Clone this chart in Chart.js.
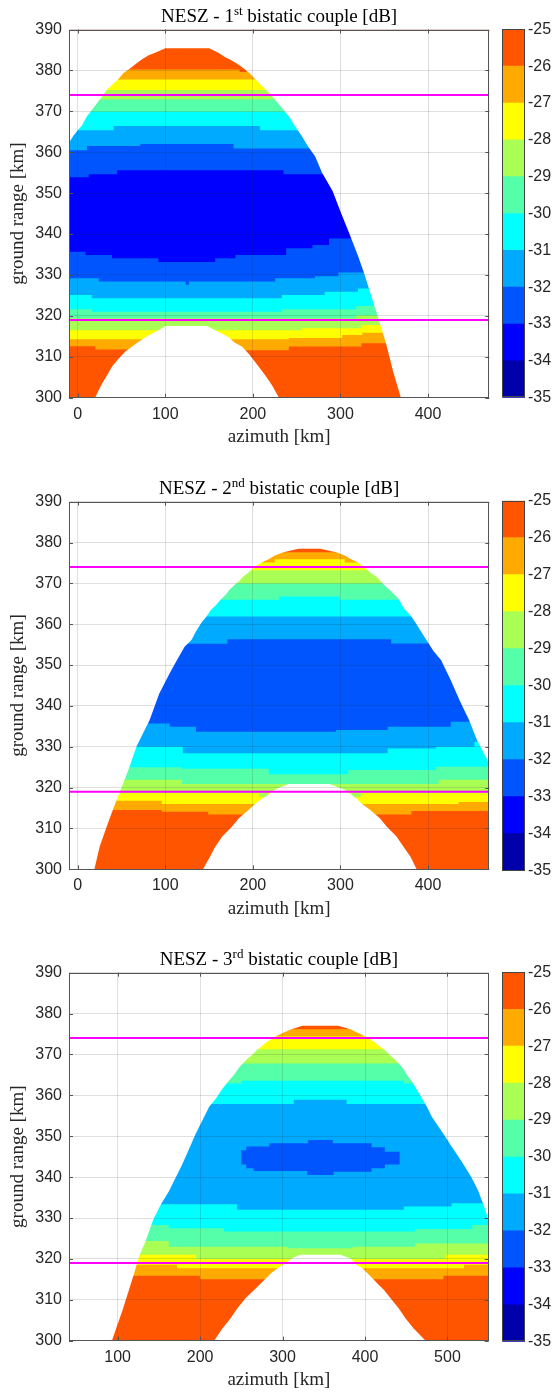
<!DOCTYPE html>
<html>
<head>
<meta charset="utf-8">
<script src="https://cdn.jsdelivr.net/npm/chart.js@4.4.1/dist/chart.umd.min.js"></script>
<style>
  html, body { margin: 0; padding: 0; background: #fff; }
  body { width: 555px; height: 1392px; position: relative; overflow: hidden; }
  canvas { position: absolute; }
</style>
</head>
<body>
<canvas id="plot1" width="495" height="460" style="left:0px;top:0px"></canvas>
<canvas id="cbar1" width="60" height="460" style="left:495px;top:0px"></canvas>
<canvas id="plot2" width="495" height="465" style="left:0px;top:460px"></canvas>
<canvas id="cbar2" width="60" height="465" style="left:495px;top:460px"></canvas>
<canvas id="plot3" width="495" height="467" style="left:0px;top:925px"></canvas>
<canvas id="cbar3" width="60" height="467" style="left:495px;top:925px"></canvas>
<script>
// NESZ levels [dB]: region "NESZ < level" is painted over the previous one
var levels = [-26, -27, -28, -29, -30, -31, -32, -33];
var levelColors = ["#FFAA00", "#FFFF00", "#AAFF55", "#55FFAA", "#00FFFF", "#00AAFF", "#0055FF", "#0000FF"];
var topColor = "#FF5500";

// colorbar
var cbarTicks = [-35, -34, -33, -32, -31, -30, -29, -28, -27, -26, -25];
var cbarColors = ["#0000AA", "#0000FF", "#0055FF", "#00AAFF", "#00FFFF", "#55FFAA", "#AAFF55", "#FFFF00", "#FFAA00", "#FF5500"];

var groundRange = [300, 390];
var rangeTicks = [300, 310, 320, 330, 340, 350, 360, 370, 380, 390];
var swathEdges = [374, 319];

var titles = [
    ["NESZ - 1", "st", " bistatic couple [dB]"],
    ["NESZ - 2", "nd", " bistatic couple [dB]"],
    ["NESZ - 3", "rd", " bistatic couple [dB]"]
];

// ---------- 1st couple ----------
var p1Azimuth = [-10, 470];
var p1Ticks = [0, 100, 200, 300, 400];
var p1Dome = [[-10,362.3],[-5,364],[0,365.4],[5,366.6],[10,368.6],[16,370.3],[23,372.3],[28,373.6],[33,375.2],[40,376.6],[45,377.6],[49,378.5],[52,379.3],[58,380.2],[63,381],[68,381.9],[74,382.8],[81,383.7],[89,384.4],[100,385.4],[150,385.4],[160,384.4],[168,383.3],[176,382.4],[185,381.2],[191,380.2],[197,379.2],[203,377.8],[210,376.3],[218,374.6],[225,372.9],[233,370.9],[241,368.8],[248,366.4],[256,363.9],[263,361.4],[271,359],[279,355],[291,350.5],[300,345.5],[310,340.2],[320,334.7],[327,330.4],[335,325],[342,320.3],[352,313.3],[360,306.5],[369,300],[372,296],[470,296]];
var p1Hole = [[-10,296],[18,296],[20.2,300.2],[24,301.9],[27.8,303.5],[33.5,305.5],[39.2,307.6],[46.8,309.6],[54.4,311.3],[62,312.5],[69.6,313.7],[77.2,314.8],[84.8,315.7],[92.4,316.5],[100,317.5],[147.5,317.5],[157,316.5],[164.6,315.7],[172.2,314.8],[179.8,313.4],[187.5,312.5],[195,310.8],[200.8,309.2],[206.5,307.6],[214,305.5],[221.7,303.1],[229.3,300.2],[232,296],[470,296]];
var p1Upper = [
    [[-10,380.2],[185,379.6],[193,380.2],[470,380.2]],
    [[-10,377.8],[470,377.8]],
    [[-10,375.2],[470,375.2]],
    [[-10,372.9],[470,372.9]],
    [[-10,369.9],[470,369.9]],
    [[-10,365.4],[41,366.4],[208,365.4],[470,365.4]],
    [[-10,360.5],[10.6,361.5],[71.5,362],[178,360.9],[470,360.9]],
    [[-10,353.9],[12.5,354.6],[45,355.6],[235,354.6],[470,354.6]]
];
var p1Lower = [
    [[-10,312.6],[20,311.8],[190,311.6],[241,312.5],[324,313.3],[470,313.3]],
    [[-10,314.3],[241,314.6],[302,315.3],[325,315.9],[470,315.9]],
    [[-10,316.5],[256,317],[324,317.8],[470,317.8]],
    [[-10,319.4],[318,320.1],[470,320.1]],
    [[-10,321.6],[16,321],[233,321.6],[318,322.4],[470,322.4]],
    [[-10,325.1],[16,324.3],[233,325.1],[282,325.9],[320,326.7],[470,326.7]],
    [[-10,329.2],[24,328.4],[123,327.6],[127,328.4],[225.5,329.2],[271,329.7],[297.7,330.6],[470,330.6]],
    [[-10,335.7],[9,334.9],[39,334.1],[92,333.2],[157,334.1],[180,334.9],[238,336.5],[268,337.3],[287,338.9],[470,338.9]]
];

// ---------- 2nd couple ----------
var p2Azimuth = [-10, 470];
var p2Ticks = [0, 100, 200, 300, 400];
var p2Dome = [[-10,290],[17,290],[19,300],[25,305.5],[33,310.4],[40,314.5],[50,320],[59,325],[67,330],[75,333.5],[82,336.5],[93,343],[105,348],[114,351.5],[122,354.5],[130,356.2],[135,358.2],[141,360.3],[147,361.9],[152,363.5],[158,364.7],[163,366],[169,367.2],[173,368.4],[179,369.6],[184,370.5],[189,371.7],[194,372.5],[198,373.3],[204,374.3],[210,375.1],[218,375.9],[225,376.8],[235,377.6],[252,378.5],[277,378.5],[295,377.6],[305,376.8],[312,375.9],[320,375.1],[325,374.3],[331,373.3],[335,372.5],[341,371.7],[346,370.5],[350,369.6],[356,368.4],[362,367.2],[367,366],[370,364.7],[374,363.5],[381,361.9],[386,360.3],[392,358.2],[398,356.2],[406,353.5],[415,351.2],[426,346.3],[436,341.4],[447,336.5],[456,331.6],[468,326.7],[474,323]];
var p2Hole = [[-10,290],[141,290],[143,300],[151,303.1],[157,305.5],[165,308],[176,310.4],[184,312.5],[195,314.5],[203,316.1],[210,317.2],[217,318.2],[225,319.5],[231,320.1],[241,320.9],[288,320.9],[297,320.1],[305,319.5],[313,318.2],[319,317.2],[324,316.1],[334,314.5],[345,312.5],[353,310.4],[364,308],[372,305.5],[380,303.1],[387,300],[389,290],[470,290]];
var p2Upper = [
    [[-10,377.6],[470,377.6]],
    [[-10,375.1],[225,375.9],[305,375.1],[470,375.1]],
    [[-10,373.2],[470,373.2]],
    [[-10,370],[470,370]],
    [[-10,366],[230,366.8],[299,366],[470,366]],
    [[-10,361.9],[470,361.9]],
    [[-10,355.2],[171,356.3],[358,355.3],[470,355.3]]
];
var p2Lower = [
    [[-10,314.5],[96,314.1],[149,313.4],[381,314.3],[470,314.3]],
    [[-10,316.8],[96,316],[435,316.5],[470,316.5]],
    [[-10,318.6],[207,317.7],[217,318.6],[313,317.7],[324,318.6],[470,318.6]],
    [[-10,321.9],[119,320.9],[412,321.9],[470,321.9]],
    [[-10,325],[119,324.6],[218,323.3],[309,324.3],[409,325.1],[470,325.1]],
    [[-10,330],[120,328.4],[354,329.6],[409,330],[453,331.2],[470,331.2]],
    [[-10,335.7],[105,334.9],[135,333.7],[295,334.1],[354,334.9],[426,336.1],[470,336.1]]
];

// ---------- 3rd couple ----------
var p3Azimuth = [41, 550];
var p3Ticks = [100, 200, 300, 400, 500];
var p3Dome = [[41,290],[91,290],[93,300],[106,307.5],[113,312],[119.5,316.1],[126,320.6],[134,324.4],[143,329.5],[152,333.2],[162,336.5],[178,343],[189,348],[193,349.9],[199,352.4],[205,354.8],[211,357.2],[219.5,359.3],[226,361.3],[234,363.4],[241,365],[248,367],[256,368.7],[263,369.9],[269,371.1],[274,371.9],[280,372.9],[286,373.7],[292.5,374.5],[300.6,375.3],[311,376.2],[324,377],[367.5,377],[382,376.2],[391,375.3],[399,374.5],[406,373.7],[412,372.9],[418,371.9],[424,371.1],[430,369.9],[436.5,368.7],[444.6,367],[451,365],[457,363.4],[463,361.3],[469,359.3],[475,357.2],[481,354.8],[489,352.4],[497,350],[505,347.5],[513,345.1],[521,342.6],[529,340],[537,336.8],[545,332.5],[552,328]];
var p3Hole = [[41,290],[215,290],[217,300],[227,303],[237,305.5],[245,307.9],[255,310.4],[265.5,312.4],[273.5,314],[280,315.3],[286,316.5],[294,317.7],[300,318.5],[310,320],[321,321],[370.5,321],[383,320],[390,318.5],[397,317.7],[403,316.5],[409,315.3],[415,314],[423,312.4],[431,310.4],[441,307.9],[449,305.5],[459,303],[473.5,300],[476,290],[550,290]];
var p3Upper = [
    [[41,376.2],[550,376.2]],
    [[41,374.4],[550,374.4]],
    [[41,371.3],[550,371.3]],
    [[41,367.8],[550,367.8]],
    [[41,362.9],[250,363.6],[447,362.9],[550,362.9]],
    [[41,357.9],[313.6,358.9],[377.7,357.9],[550,357.9]],
    [[41,344.9],[250,346.6],[256,347.5],[284,348.3],[331,349.1],[361,348.3],[408,347.3],[424,346.2],[442,344.9],[550,344.9]]
];
var p3Lower = [
    [[41,315.9],[200,315],[495,315.9],[550,315.9]],
    [[41,318.6],[172,317.7],[520,318.6],[550,318.6]],
    [[41,321],[195,320],[498,321],[550,321]],
    [[41,324.4],[162,323],[306,322.6],[385,323],[461,323.8],[550,323.8]],
    [[41,328.3],[162,327.5],[229,326.7],[461,327.3],[530,328.3],[550,328.3]],
    [[41,333.4],[245,332],[447,332.8],[505,333.6],[550,333.6]],
    [[41,344.9],[250,343.1],[256,342.2],[265,341.5],[330,340.5],[362,341.3],[408,342.2],[424,343.1],[442,344.9],[550,344.9]]
];

var tickFont = { family: "Liberation Sans", size: 16 };
var labelFont = { family: "Liberation Serif", size: 19 };
var axisColor = "#262626";
var gridColor = "rgba(38,38,38,0.15)";

//build the line datasets of one plot
function buildDatasets(az, dome, hole, upper, lower) {
    var ds = [];
    swathEdges.forEach(function (r) {
        ds.push({ data: [[az[0], r], [az[1], r]], borderColor: "#FF00FF", borderWidth: 2, fill: false, order: 0 });
    });
    ds.push({ data: dome, borderColor: "transparent", borderWidth: 0, backgroundColor: "#ffffff", fill: "end", order: 1 });
    ds.push({ data: hole, borderColor: "transparent", borderWidth: 0, backgroundColor: "#ffffff", fill: "start", order: 2 });
    for (var i = 0; i < upper.length; i++) {
        var ord = 10 + (upper.length - 1 - i);
        ds.push({ data: upper[i], stepped: true, borderColor: "transparent", borderWidth: 0, backgroundColor: levelColors[i], fill: "+1", order: ord });
        ds.push({ data: lower[i], stepped: true, borderColor: "transparent", borderWidth: 0, fill: false, order: ord });
    }
    ds.push({ data: [[az[0], groundRange[1]], [az[1], groundRange[1]]], borderColor: "transparent", borderWidth: 0, backgroundColor: topColor, fill: "start", order: 50 });
    return ds;
}

//box, inward ticks and title with superscript
function framePlugin(parts) {
    return {
        id: "frame",
        afterDraw: function (chart) {
            var ctx = chart.ctx, a = chart.chartArea;
            ctx.save();
            ctx.strokeStyle = "#555";
            ctx.lineWidth = 1;
            ctx.strokeRect(Math.round(a.left) + 0.5, Math.round(a.top) + 0.5, Math.round(a.width) - 1, Math.round(a.height) - 1);
            ctx.beginPath();
            chart.scales.x.ticks.forEach(function (t) {
                var px = Math.round(chart.scales.x.getPixelForValue(t.value)) + 0.5;
                ctx.moveTo(px, a.bottom); ctx.lineTo(px, a.bottom - 4);
                ctx.moveTo(px, a.top); ctx.lineTo(px, a.top + 4);
            });
            chart.scales.y.ticks.forEach(function (t) {
                var py = Math.round(chart.scales.y.getPixelForValue(t.value)) + 0.5;
                ctx.moveTo(a.left, py); ctx.lineTo(a.left + 4, py);
                ctx.moveTo(a.right, py); ctx.lineTo(a.right - 4, py);
            });
            ctx.stroke();

            var big = '19px "Liberation Serif"', small = '13px "Liberation Serif"';
            ctx.font = big;
            var w1 = ctx.measureText(parts[0]).width, w3 = ctx.measureText(parts[2]).width;
            ctx.font = small;
            var w2 = ctx.measureText(parts[1]).width;
            var x = (a.left + a.right) / 2 - (w1 + w2 + w3) / 2, y = a.top - 8;
            ctx.fillStyle = "#000";
            ctx.textAlign = "left";
            ctx.textBaseline = "alphabetic";
            ctx.font = big; ctx.fillText(parts[0], x, y); x += w1;
            ctx.font = small; ctx.fillText(parts[1], x, y - 7); x += w2;
            ctx.font = big; ctx.fillText(parts[2], x, y);
            ctx.restore();
        }
    };
}

function makePlot(id, az, xTicks, dome, hole, upper, lower, pad, parts) {
    return new Chart(document.getElementById(id), {
        type: "line",
        data: { datasets: buildDatasets(az, dome, hole, upper, lower) },
        options: {
            responsive: false,
            animation: false,
            layout: { padding: pad },
            elements: { point: { radius: 0 } },
            plugins: { legend: { display: false }, tooltip: { enabled: false }, title: { display: false } },
            scales: {
                x: {
                    type: "linear",
                    min: az[0],
                    max: az[1],
                    afterFit: function (s) { s.height = 51; },
                    afterBuildTicks: function (s) { s.ticks = xTicks.map(function (v) { return { value: v }; }); },
                    ticks: { padding: 7, maxRotation: 0, color: axisColor, font: tickFont },
                    grid: { color: gridColor, drawTicks: false, z: 1 },
                    border: { display: false },
                    title: { display: true, text: "azimuth [km]", color: axisColor, font: labelFont, padding: 0 }
                },
                y: {
                    type: "linear",
                    min: groundRange[0],
                    max: groundRange[1],
                    afterFit: function (s) { s.width = 69; },
                    afterBuildTicks: function (s) { s.ticks = rangeTicks.map(function (v) { return { value: v }; }); },
                    ticks: { padding: 7, color: axisColor, font: tickFont },
                    grid: { color: gridColor, drawTicks: false, z: 1 },
                    border: { display: false },
                    title: { display: true, text: "ground range [km]", color: axisColor, font: labelFont, padding: { top: 7, bottom: 0 } }
                }
            }
        },
        plugins: [framePlugin(parts)]
    });
}

var cbarBox = {
    id: "cbarBox",
    afterDraw: function (chart) {
        var ctx = chart.ctx, a = chart.chartArea;
        ctx.save();
        ctx.strokeStyle = "#444";
        ctx.lineWidth = 1;
        ctx.strokeRect(Math.round(a.left) + 0.5, Math.round(a.top) + 0.5, Math.round(a.width) - 1, Math.round(a.height) - 1);
        ctx.restore();
    }
};

function makeColorbar(id, pad) {
    return new Chart(document.getElementById(id), {
        type: "bar",
        data: {
            labels: [""],
            datasets: cbarColors.map(function (c, i) {
                return { data: [[cbarTicks[i], cbarTicks[i + 1]]], backgroundColor: c, borderWidth: 0, barPercentage: 1, categoryPercentage: 1, grouped: false };
            })
        },
        options: {
            responsive: false,
            animation: false,
            layout: { padding: pad },
            plugins: { legend: { display: false }, tooltip: { enabled: false } },
            scales: {
                x: { display: false },
                y: {
                    position: "right",
                    min: cbarTicks[0],
                    max: cbarTicks[cbarTicks.length - 1],
                    afterFit: function (s) { s.width = 30; },
                    afterBuildTicks: function (s) { s.ticks = cbarTicks.map(function (v) { return { value: v }; }); },
                    ticks: { autoSkip: false, padding: 3, color: axisColor, font: tickFont },
                    grid: { display: false, drawTicks: false },
                    border: { display: false }
                }
            }
        },
        plugins: [cbarBox]
    });
}

makePlot("plot1", p1Azimuth, p1Ticks, p1Dome, p1Hole, p1Upper, p1Lower, { top: 29.5, right: 5.7, bottom: 11.3, left: 0 }, titles[0]);
makePlot("plot2", p2Azimuth, p2Ticks, p2Dome, p2Hole, p2Upper, p2Lower, { top: 41.7, right: 5.7, bottom: 4.7, left: 0 }, titles[1]);
makePlot("plot3", p3Azimuth, p3Ticks, p3Dome, p3Hole, p3Upper, p3Lower, { top: 47.7, right: 6.3, bottom: 0.3, left: 0 }, titles[2]);

makeColorbar("cbar1", { top: 29.3, right: 0, bottom: 62.3, left: 7.3 });
makeColorbar("cbar2", { top: 40.7, right: 0, bottom: 54.3, left: 7.3 });
makeColorbar("cbar3", { top: 47.3, right: 0, bottom: 50.3, left: 7.3 });
</script>
</body>
</html>
